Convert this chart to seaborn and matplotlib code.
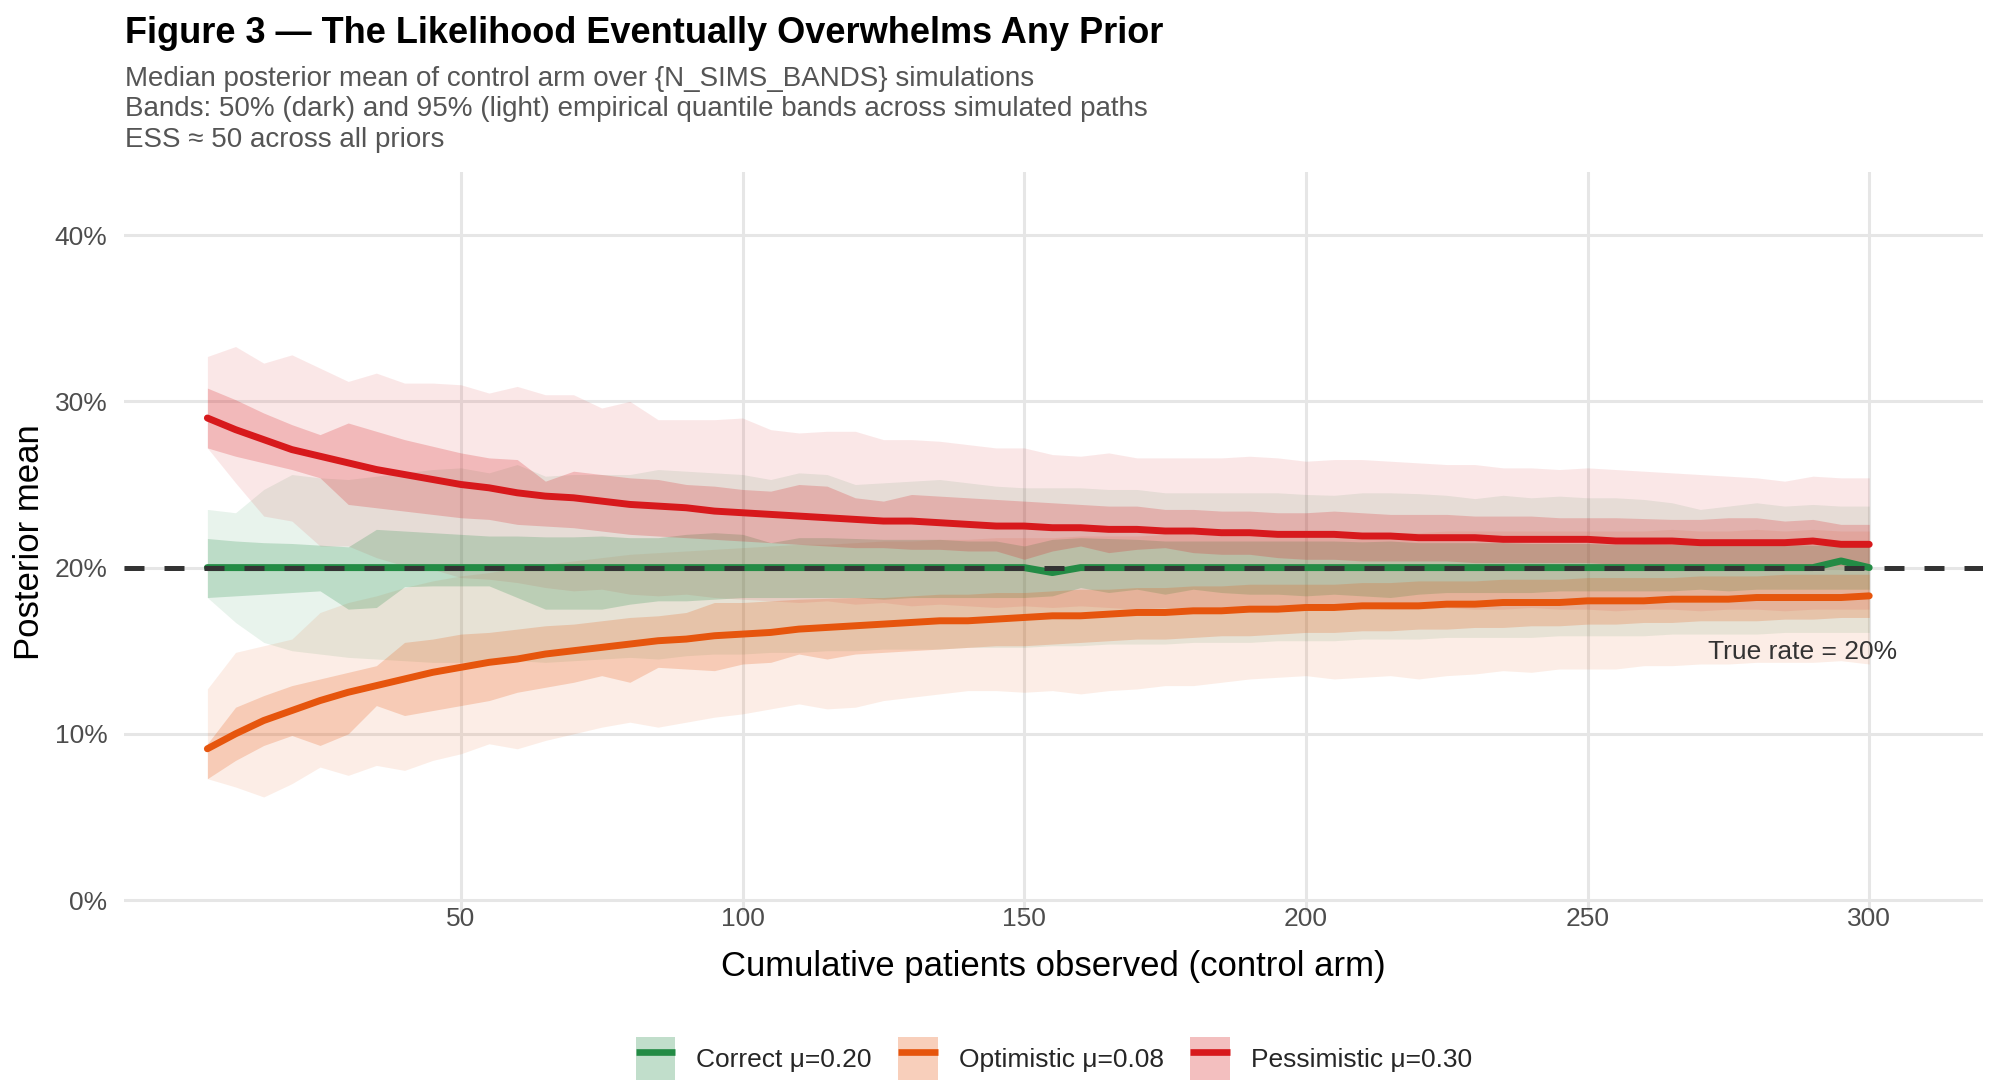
import numpy as np
import pandas as pd
import matplotlib
matplotlib.use("Agg")
import matplotlib.pyplot as plt
from matplotlib.patches import Patch
from matplotlib.lines import Line2D
from matplotlib.ticker import PercentFormatter
import seaborn as sns

# cumulative patients observed (control arm)
n_obs = list(range(5, 305, 5))

priors = ["Correct μ=0.20", "Optimistic μ=0.08", "Pessimistic μ=0.30"]
colors = ["#238b45", "#e6550d", "#d7191c"]

# values in percent
correct_med = [20.0] * 30 + [19.7] + [20.0] * 27 + [20.4, 20.0]
correct_lo95 = [18.2, 16.7, 15.5, 15.0, 14.8, 14.6, 14.5, 14.4, 14.3, 14.3,
                14.4, 14.4, 14.3, 14.4, 14.5, 14.6, 14.5, 14.7, 14.8, 14.8,
                14.9, 14.9, 15.0, 15.0, 15.1, 15.1, 15.1, 15.2, 15.2, 15.2,
                15.3, 15.3, 15.4, 15.4, 15.4, 15.5, 15.5, 15.5, 15.6, 15.6,
                15.6, 15.7, 15.7, 15.7, 15.8, 15.8, 15.8, 15.8, 15.9, 15.9,
                15.9, 15.9, 16.0, 16.0, 16.0, 16.0, 16.1, 16.1, 16.1, 16.1]
correct_hi95 = [23.5, 23.3, 24.7, 25.6, 25.4, 25.3, 25.5, 25.7, 25.9, 26.0,
                25.7, 26.2, 25.5, 25.6, 25.6, 25.6, 25.9, 25.8, 25.7, 25.6,
                25.3, 25.7, 25.6, 25.0, 25.1, 25.2, 25.3, 25.1, 24.9, 24.8,
                24.8, 24.8, 24.7, 24.7, 24.5, 24.5, 24.5, 24.5, 24.5, 24.4,
                24.35, 24.5, 24.5, 24.45, 24.35, 24.15, 24.35, 24.2, 24.3, 24.2,
                24.2, 24.1, 23.9, 23.5, 23.7, 23.9, 23.7, 23.8, 23.7, 23.7]
correct_lo50 = [18.2, 18.3, 18.4, 18.5, 18.6, 17.5, 17.6, 18.85, 18.9, 18.9,
                18.9, 18.2, 17.5, 17.5, 17.5, 17.8, 18.0, 18.0, 18.1, 18.2,
                18.2, 18.2, 18.2, 18.2, 18.1, 18.2, 18.2, 18.2, 18.2, 18.2,
                18.3, 18.8, 18.5, 18.7, 18.4, 18.7, 18.5, 18.4, 18.4, 18.3,
                18.4, 18.3, 18.2, 18.4, 18.5, 18.5, 18.5, 18.5, 18.6, 18.6,
                18.6, 18.6, 18.6, 18.7, 18.6, 18.7, 18.7, 18.7, 18.7, 18.7]
correct_hi50 = [21.75, 21.6, 21.5, 21.45, 21.35, 21.25, 22.3, 22.2, 22.1, 22.0,
                21.9, 21.9, 21.85, 21.85, 21.9, 21.8, 21.8, 22.0, 22.1, 22.0,
                21.5, 21.8, 21.8, 21.75, 21.7, 21.7, 21.7, 21.6, 21.6, 21.3,
                21.7, 21.8, 21.75, 21.7, 21.6, 21.6, 21.6, 21.6, 21.6, 21.6,
                21.6, 21.55, 21.6, 21.5, 21.5, 21.5, 21.5, 21.45, 21.45, 21.45,
                21.4, 21.45, 21.4, 21.4, 21.4, 21.35, 21.4, 21.35, 21.35, 21.35]

optim_med = [9.1, 10.0, 10.8, 11.4, 12.0, 12.5, 12.9, 13.3, 13.7, 14.0,
             14.3, 14.5, 14.8, 15.0, 15.2, 15.4, 15.6, 15.7, 15.9, 16.0,
             16.1, 16.3, 16.4, 16.5, 16.6, 16.7, 16.8, 16.8, 16.9, 17.0,
             17.1, 17.1, 17.2, 17.3, 17.3, 17.4, 17.4, 17.5, 17.5, 17.6,
             17.6, 17.7, 17.7, 17.7, 17.8, 17.8, 17.9, 17.9, 17.9, 18.0,
             18.0, 18.0, 18.1, 18.1, 18.1, 18.2, 18.2, 18.2, 18.2, 18.3]
optim_lo95 = [7.3, 6.8, 6.2, 7.0, 8.0, 7.5, 8.1, 7.8, 8.4, 8.8,
              9.4, 9.1, 9.6, 10.0, 10.4, 10.7, 10.4, 10.7, 11.0, 11.2,
              11.5, 11.8, 11.5, 11.6, 12.0, 12.2, 12.4, 12.6, 12.6, 12.5,
              12.6, 12.4, 12.6, 12.7, 12.9, 12.9, 13.1, 13.3, 13.4, 13.5,
              13.3, 13.4, 13.5, 13.3, 13.5, 13.6, 13.8, 13.7, 13.9, 13.9,
              13.9, 14.1, 14.1, 14.2, 14.2, 14.3, 14.3, 14.3, 14.4, 14.2]
optim_hi95 = [12.7, 14.9, 15.3, 15.7, 17.3, 17.9, 18.3, 18.8, 19.2, 19.5,
              19.7, 20.0, 20.2, 20.4, 20.6, 20.8, 20.9, 21.0, 21.1, 21.2,
              21.3, 21.4, 21.4, 21.5, 21.6, 21.6, 21.7, 21.7, 21.8, 21.8,
              21.8, 21.9, 21.9, 21.9, 22.0, 22.0, 22.0, 22.0, 22.0, 22.0,
              22.1, 22.1, 22.1, 22.1, 22.2, 22.2, 22.2, 22.2, 22.2, 22.2,
              22.2, 22.2, 22.3, 22.2, 22.2, 22.3, 22.2, 22.3, 22.2, 22.2]
optim_lo50 = [7.3, 8.4, 9.3, 9.9, 9.3, 10.0, 11.7, 11.1, 11.4, 11.7,
              12.0, 12.5, 12.8, 13.1, 13.5, 13.1, 14.0, 13.9, 13.8, 14.2,
              14.3, 14.8, 14.5, 14.8, 14.9, 15.0, 15.1, 15.2, 15.3, 15.3,
              15.4, 15.5, 15.6, 15.7, 15.7, 15.8, 15.9, 15.9, 16.0, 16.1,
              16.1, 16.2, 16.2, 16.3, 16.3, 16.4, 16.4, 16.5, 16.5, 16.6,
              16.6, 16.7, 16.7, 16.8, 16.8, 16.8, 16.9, 16.9, 17.0, 17.0]
optim_hi50 = [9.4, 11.6, 12.3, 12.9, 13.3, 13.7, 14.1, 15.5, 15.7, 16.0,
              16.1, 16.3, 16.5, 16.6, 16.8, 17.0, 17.1, 17.3, 17.9, 17.9,
              18.0, 18.1, 18.15, 18.2, 18.2, 18.3, 18.4, 18.4, 18.5, 18.5,
              18.6, 18.7, 18.7, 18.8, 18.8, 18.9, 18.9, 19.0, 19.0, 19.0,
              19.0, 19.1, 19.1, 19.2, 19.2, 19.2, 19.3, 19.3, 19.3, 19.4,
              19.4, 19.4, 19.4, 19.5, 19.5, 19.5, 19.6, 19.6, 19.6, 19.6]

pessim_med = [29.0, 28.3, 27.7, 27.1, 26.7, 26.3, 25.9, 25.6, 25.3, 25.0,
              24.8, 24.5, 24.3, 24.2, 24.0, 23.8, 23.7, 23.6, 23.4, 23.3,
              23.2, 23.1, 23.0, 22.9, 22.8, 22.8, 22.7, 22.6, 22.5, 22.5,
              22.4, 22.4, 22.3, 22.3, 22.2, 22.2, 22.1, 22.1, 22.0, 22.0,
              22.0, 21.9, 21.9, 21.8, 21.8, 21.8, 21.7, 21.7, 21.7, 21.7,
              21.6, 21.6, 21.6, 21.5, 21.5, 21.5, 21.5, 21.6, 21.4, 21.4]
pessim_lo95 = [27.2, 25.1, 23.1, 22.8, 21.3, 21.3, 20.6, 20.1, 19.9, 19.4,
               19.3, 19.1, 18.8, 18.6, 18.7, 18.4, 18.3, 18.4, 18.2, 18.1,
               18.0, 17.9, 18.0, 17.8, 17.9, 17.7, 17.8, 17.7, 17.6, 17.7,
               17.6, 17.7, 17.6, 17.5, 17.6, 17.6, 17.5, 17.6, 17.5, 17.6,
               17.5, 17.6, 17.5, 17.5, 17.6, 17.5, 17.5, 17.6, 17.5, 17.5,
               17.4, 17.5, 17.5, 17.4, 17.5, 17.5, 17.4, 17.5, 17.5, 17.5]
pessim_hi95 = [32.7, 33.3, 32.3, 32.8, 32.0, 31.2, 31.7, 31.1, 31.1, 31.0,
               30.5, 30.9, 30.4, 30.4, 29.6, 30.0, 28.9, 28.9, 28.9, 29.0,
               28.3, 28.1, 28.2, 28.2, 27.7, 27.7, 27.6, 27.4, 27.2, 27.2,
               26.8, 26.7, 26.9, 26.6, 26.6, 26.6, 26.6, 26.7, 26.6, 26.4,
               26.5, 26.5, 26.4, 26.3, 26.2, 26.2, 26.0, 26.0, 25.9, 26.0,
               25.9, 25.8, 25.7, 25.6, 25.5, 25.4, 25.2, 25.5, 25.4, 25.4]
pessim_lo50 = [27.2, 26.7, 26.3, 25.9, 25.4, 23.8, 23.6, 23.4, 23.2, 23.0,
               22.9, 22.6, 22.5, 22.4, 22.2, 22.0, 21.9, 21.8, 21.7, 21.6,
               21.5, 21.4, 21.3, 21.2, 21.2, 21.1, 21.1, 21.0, 21.0, 20.5,
               21.0, 21.3, 20.9, 21.1, 21.2, 20.9, 20.8, 20.8, 20.6, 20.5,
               20.5, 20.4, 20.4, 20.4, 20.4, 20.3, 20.3, 20.3, 20.3, 20.3,
               20.2, 20.2, 20.2, 20.2, 20.1, 20.1, 20.1, 20.1, 20.1, 20.1]
pessim_hi50 = [30.8, 30.1, 29.3, 28.6, 28.0, 28.7, 28.2, 27.7, 27.3, 26.9,
               26.6, 26.5, 25.2, 25.8, 25.6, 25.4, 25.3, 25.0, 24.9, 24.7,
               24.6, 25.0, 24.9, 24.2, 24.0, 24.4, 24.3, 24.2, 24.1, 24.0,
               23.9, 23.8, 23.7, 23.7, 23.5, 23.5, 23.4, 23.4, 23.3, 23.3,
               23.4, 23.3, 23.2, 23.2, 23.2, 23.1, 23.1, 23.1, 23.0, 23.0,
               23.0, 22.95, 22.9, 22.9, 23.0, 23.0, 22.8, 22.9, 22.6, 22.6]

true_rate = 0.20

frames = []
for name, med, lo95, hi95, lo50, hi50 in [
    (priors[0], correct_med, correct_lo95, correct_hi95, correct_lo50, correct_hi50),
    (priors[1], optim_med, optim_lo95, optim_hi95, optim_lo50, optim_hi50),
    (priors[2], pessim_med, pessim_lo95, pessim_hi95, pessim_lo50, pessim_hi50),
]:
    frames.append(pd.DataFrame({
        "n": n_obs, "prior": name,
        "median": np.array(med) / 100, "lo95": np.array(lo95) / 100,
        "hi95": np.array(hi95) / 100, "lo50": np.array(lo50) / 100,
        "hi50": np.array(hi50) / 100,
    }))
df = pd.concat(frames, ignore_index=True)
palette = dict(zip(priors, colors))

sns.set_theme(style="whitegrid")
plt.rcParams["font.family"] = ["Liberation Sans", "DejaVu Sans"]

fig, ax = plt.subplots(figsize=(10, 5.45), dpi=200)
fig.subplots_adjust(left=0.062, right=0.9915, top=0.8422, bottom=0.1633)

# light bands first, then dark bands
for name in priors:
    d = df[df["prior"] == name]
    ax.fill_between(d["n"], d["lo95"], d["hi95"], color=palette[name],
                    alpha=0.10, lw=0, zorder=1)
for name in priors:
    d = df[df["prior"] == name]
    ax.fill_between(d["n"], d["lo50"], d["hi50"], color=palette[name],
                    alpha=0.22, lw=0, zorder=2)

sns.lineplot(data=df, x="n", y="median", hue="prior", palette=palette,
             linewidth=2.5, legend=False, ax=ax, zorder=3)

ax.axhline(true_rate, color="#333333", lw=1.8, dashes=(4, 4), zorder=4)
ax.text(305, 0.149, "True rate = 20%", ha="right", va="center",
        fontsize=9.5, color="#333333")

ax.set_xlim(-9.8, 320.2)
ax.set_ylim(-0.0072, 0.438)
ax.set_xticks([50, 100, 150, 200, 250, 300])
ax.set_yticks([0, 0.1, 0.2, 0.3, 0.4])
ax.yaxis.set_major_formatter(PercentFormatter(1.0, decimals=0))
ax.grid(True, color="#e6e6e6", lw=1.1)
ax.set_axisbelow(True)
for s in ax.spines.values():
    s.set_visible(False)
ax.tick_params(length=0, labelsize=9.5, labelcolor="#4d4d4d")
ax.tick_params(axis="y", pad=6)
ax.tick_params(axis="x", pad=-1.8)
ax.set_xlabel("Cumulative patients observed (control arm)", fontsize=12.5,
              color="black", labelpad=6.8)
ax.set_ylabel("Posterior mean", fontsize=12.5, color="black", labelpad=3)

fig.text(0.0625, 1 - 43 / 1090, "Figure 3 — The Likelihood Eventually Overwhelms Any Prior",
         fontsize=13, fontweight="bold", color="black", va="baseline", ha="left")
subs = ["Median posterior mean of control arm over {N_SIMS_BANDS} simulations",
        "Bands: 50% (dark) and 95% (light) empirical quantile bands across simulated paths",
        "ESS ≈ 50 across all priors"]
for i, s in enumerate(subs):
    fig.text(0.0625, 1 - (86 + 30.5 * i) / 1090, s, fontsize=10, color="#555555",
             va="baseline", ha="left")

handles = [(Patch(facecolor=c, alpha=0.28, lw=0),
            Line2D([], [], color=c, lw=2.4, solid_capstyle="butt"))
           for c in colors]
fig.legend(handles, priors, loc="center", bbox_to_anchor=(0.527, 0.029), ncol=3,
           frameon=False, fontsize=9.5, handlelength=1.5, handleheight=2.1,
           handletextpad=0.8, columnspacing=1.0)

fig.savefig("out.png", dpi=200)
